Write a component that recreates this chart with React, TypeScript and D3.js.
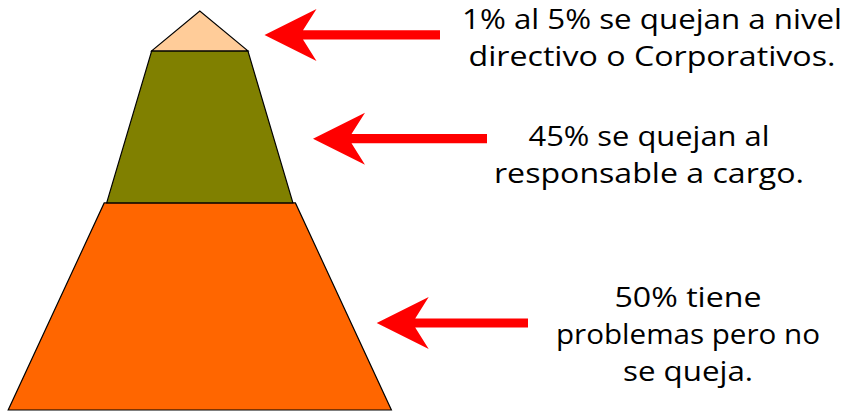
import React from "react";
import * as d3 from "d3";

// Tiers of the complaint pyramid, bottom to top.
// Heights are shares of the pyramid height, widths are shares of the base half-width.
const tierNames = ["no se queja", "responsable", "directivo"];
const tierFrom = [0, 0.519, 0.9];
const tierTo = [0.519, 0.9, 1.0];
const tierBottomWidth = [1.0, 0.486, 0.251];
const tierTopWidth = [0.499, 0.251, 0];
const tierColors = ["#FF6600", "#808000", "#FFCC99"];

// Callout text for each tier, bottom to top.
const tierLabels = [
  ["50% tiene", "problemas pero no", "se queja."],
  ["45% se quejan al", "responsable a cargo."],
  ["1% al 5% se quejan a nivel", "directivo o Corporativos."],
];
// Tier height (share) at which each arrow points.
const arrowLevel = [0.218, 0.68, 0.94];

const W = 846;
const H = 411;
const FONT = "'Comic Sans MS', 'Open Sans', 'DejaVu Sans', sans-serif";

// Layout of the drawing.
const cx = 199.8;
const baseHalf = 191.6;
const x = d3.scaleLinear().domain([-1, 1]).range([cx - baseHalf, cx + baseHalf]);
const y = d3.scaleLinear().domain([0, 1]).range([410, 11]);

const arrowTip = [376.7, 313, 264.5];
const arrowEnd = [528, 487, 440];
const labelCenter = [688, 649, 652];
const labelFirstBaseline = [307, 146, 29];
const lineGap = 37;
const labelWidths = [
  [147, 264, 130],
  [241, 310],
  [380, 367],
];

const poly = d3.line<[number, number]>().curve(d3.curveLinearClosed);

function tierPath(i: number) {
  const pts: [number, number][] = [
    [x(-tierBottomWidth[i]), y(tierFrom[i])],
    [x(tierBottomWidth[i]), y(tierFrom[i])],
    [x(tierTopWidth[i]), y(tierTo[i])],
    [x(-tierTopWidth[i]), y(tierTo[i])],
  ];
  return poly(pts) as string;
}

function arrowPath(i: number) {
  const tx = arrowTip[i];
  const ty = y(arrowLevel[i]);
  const headLen = 52;
  const headHalf = 26;
  const notch = 38.5;
  const shaft = 4.6;
  const pts: [number, number][] = [
    [tx, ty],
    [tx + headLen, ty - headHalf],
    [tx + notch, ty - shaft],
    [arrowEnd[i], ty - shaft],
    [arrowEnd[i], ty + shaft],
    [tx + notch, ty + shaft],
    [tx + headLen, ty + headHalf],
  ];
  return poly(pts) as string;
}

export default function App() {
  return (
    <div style={{ position: "absolute", left: 0, top: 0 }}>
      <svg width={W} height={H} viewBox={`0 0 ${W} ${H}`} style={{ display: "block", background: "#fff" }}>
        <g>
          {tierNames.map((name, i) => (
            <path
              key={name}
              d={tierPath(i)}
              fill={tierColors[i]}
              stroke="#000"
              strokeWidth={1.2}
              strokeLinejoin="miter"
            />
          ))}
        </g>
        <g>
          {tierNames.map((name, i) => (
            <path key={"a" + name} d={arrowPath(i)} fill="#FF0000" stroke="none" />
          ))}
        </g>
        <g fontFamily={FONT} fontSize={28} fill="#000" textAnchor="middle">
          {tierLabels.map((lines, i) =>
            lines.map((line, j) => (
              <text
                key={i + "-" + j}
                x={labelCenter[i]}
                y={labelFirstBaseline[i] + j * lineGap}
                textLength={labelWidths[i][j]}
                lengthAdjust="spacingAndGlyphs"
              >
                {line}
              </text>
            ))
          )}
        </g>
      </svg>
    </div>
  );
}
